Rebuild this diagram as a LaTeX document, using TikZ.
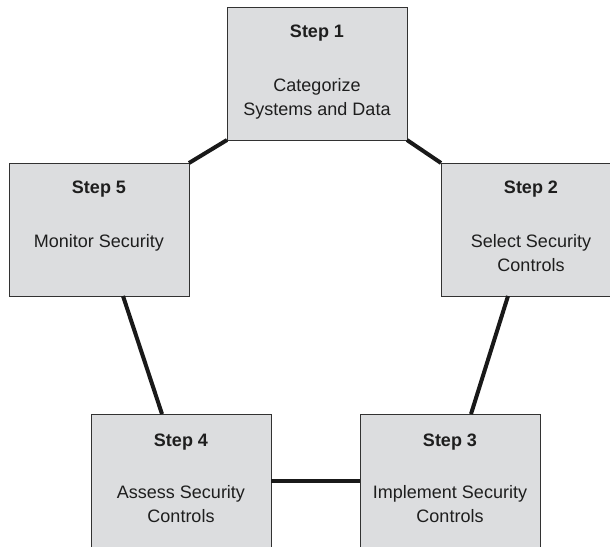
\documentclass[tikz,border=0pt]{standalone}
\usepackage{fontspec}
\setmainfont{Liberation Sans}
\usetikzlibrary{calc}
\definecolor{boxfill}{RGB}{220,221,223}
\definecolor{boxline}{RGB}{50,50,50}
\definecolor{txt}{RGB}{30,30,30}
\begin{document}
\begin{tikzpicture}[x=1pt,y=-1pt,
  stepbox/.style={draw=boxline, fill=boxfill, line width=0.9pt, minimum width=180pt, minimum height=133pt, anchor=north west, inner sep=0pt, outer sep=0pt},
  ttl/.style={anchor=base, inner sep=0pt, text=txt, font=\fontsize{18}{22}\selectfont\bfseries},
  body/.style={anchor=base, inner sep=0pt, text=txt, font=\fontsize{18}{22}\selectfont},
  link/.style={line width=4pt, draw=black!90}]
\useasboundingbox (0,0) rectangle (610,546);
\clip (0,0) rectangle (610,546);
\fill[white] (0,0) rectangle (610,546);
% boxes
\node[stepbox] (s1) at (227,7) {};
\node[stepbox] (s5) at (9,163) {};
\node[stepbox] (s2) at (441,163) {};
\node[stepbox] (s4) at (91,414) {};
\node[stepbox] (s3) at (360,414) {};
% texts
\node[ttl] (s1t) at ($(s1.north)+(0,30)$) {Step 1};
\node[body] (s1a) at ($(s1.north)+(0,84)$) {Categorize};
\node[body] (s1b) at ($(s1.north)+(0,108)$) {Systems and Data};
\node[ttl] (s2t) at ($(s2.north)+(0,30)$) {Step 2};
\node[body] (s2a) at ($(s2.north)+(0,84)$) {Select Security};
\node[body] (s2b) at ($(s2.north)+(0,108)$) {Controls};
\node[ttl] (s3t) at ($(s3.north)+(0,32)$) {Step 3};
\node[body] (s3a) at ($(s3.north)+(0,84)$) {Implement Security};
\node[body] (s3b) at ($(s3.north)+(0,108)$) {Controls};
\node[ttl] (s4t) at ($(s4.north)+(0,32)$) {Step 4};
\node[body] (s4a) at ($(s4.north)+(0,84)$) {Assess Security};
\node[body] (s4b) at ($(s4.north)+(0,108)$) {Controls};
\node[ttl] (s5t) at ($(s5.north)+(0,30)$) {Step 5};
\node[body] (s5a) at ($(s5.north)+(0,84)$) {Monitor Security};
% connectors
\draw[link] (s1.south west) -- (s5.north east);
\draw[link] (s1.south east) -- (s2.north west);
\draw[link] ($(s2.south)+(-23,0)$) -- ($(s3.north)+(21,0)$);
\draw[link] (s4.east) -- (s3.west);
\draw[link] ($(s5.south)+(24,0)$) -- ($(s4.north)+(-19,0)$);
\end{tikzpicture}
\end{document}
